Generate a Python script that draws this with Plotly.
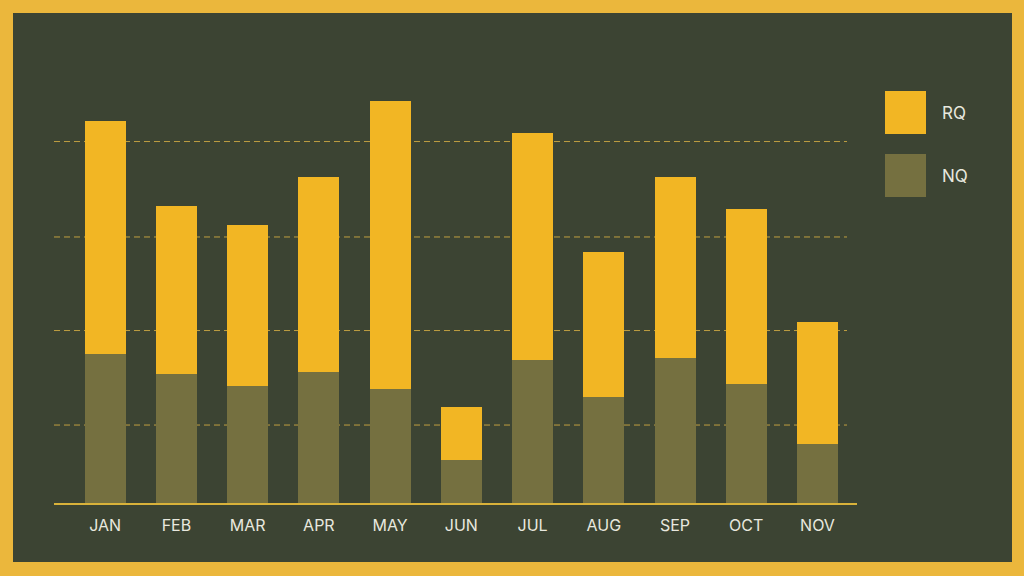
import plotly.graph_objects as go

months = ["JAN", "FEB", "MAR", "APR", "MAY", "JUN", "JUL", "AUG", "SEP", "OCT", "NOV"]
nq = [31.5, 27.2, 24.8, 27.7, 24.1, 9.0, 30.2, 22.5, 30.7, 25.1, 12.5]
rq = [49.3, 35.6, 34.0, 41.4, 60.9, 11.3, 48.1, 30.6, 38.4, 37.2, 25.8]
grid_values = [16.5, 36.5, 56.3, 76.5]
series_names = ["RQ", "NQ"]

BG = "#3c4433"
GOLD = "#ebb73c"
RQ_COL = "#f2b624"
NQ_COL = "#757040"
TXT = "#e8e8df"

W, H = 1024, 576
L, R, T, B = 54, 857, 60, 503  # plot area in pixels


def px(x):
    return (x - L) / (R - L)


def py(y):
    return (B - y) / (B - T)


fig = go.Figure()
fig.add_trace(go.Bar(x=months, y=nq, name="NQ", marker=dict(color=NQ_COL, line=dict(width=0)),
                     showlegend=False))
fig.add_trace(go.Bar(x=months, y=rq, name="RQ", marker=dict(color=RQ_COL, line=dict(width=0)),
                     showlegend=False))

shapes = []
# inner dark panel (paper bg is gold -> border)
shapes.append(dict(type="rect", xref="paper", yref="paper", layer="below",
                   x0=px(13), x1=px(1012), y0=py(562), y1=py(13),
                   fillcolor=BG, line=dict(width=0)))
# dashed gridlines
for g in grid_values:
    shapes.append(dict(type="line", xref="paper", yref="y", layer="below",
                       x0=0, x1=px(847), y0=g, y1=g,
                       line=dict(color="rgba(235,190,70,0.75)", width=1, dash="6px,4px")))
# legend swatches
legend_cols = [RQ_COL, NQ_COL]
legend_tops = [91, 154]
annotations = []
for name, col, top in zip(series_names, legend_cols, legend_tops):
    shapes.append(dict(type="rect", xref="paper", yref="paper",
                       x0=px(885), x1=px(926), y0=py(top + 43), y1=py(top),
                       fillcolor=col, line=dict(width=0)))
    annotations.append(dict(xref="paper", yref="paper", x=px(940), y=py(top + 21.5),
                            text=name, showarrow=False, xanchor="left", yanchor="middle",
                            font=dict(family="Inter", size=17, color=TXT)))

fig.update_layout(
    width=W, height=H,
    margin=dict(l=L, r=W - R, t=T, b=H - B),
    paper_bgcolor=GOLD,
    plot_bgcolor="rgba(0,0,0,0)",
    barmode="stack",
    bargap=0.424,
    shapes=shapes,
    annotations=annotations,
    xaxis=dict(range=[-0.719, 10.555], showgrid=False, zeroline=False,
               showline=True, linecolor="#d9b23a", linewidth=2,
               ticks="", ticklabelstandoff=7,
               tickfont=dict(family="Inter", size=16, color=TXT)),
    yaxis=dict(range=[0, (B - T) / 4.725], showgrid=False, zeroline=False,
               showticklabels=False, ticks=""),
)

fig.write_html("out.html", config={"displayModeBar": False},
               post_script="document.body.style.margin='0';document.body.style.overflow='hidden';")
